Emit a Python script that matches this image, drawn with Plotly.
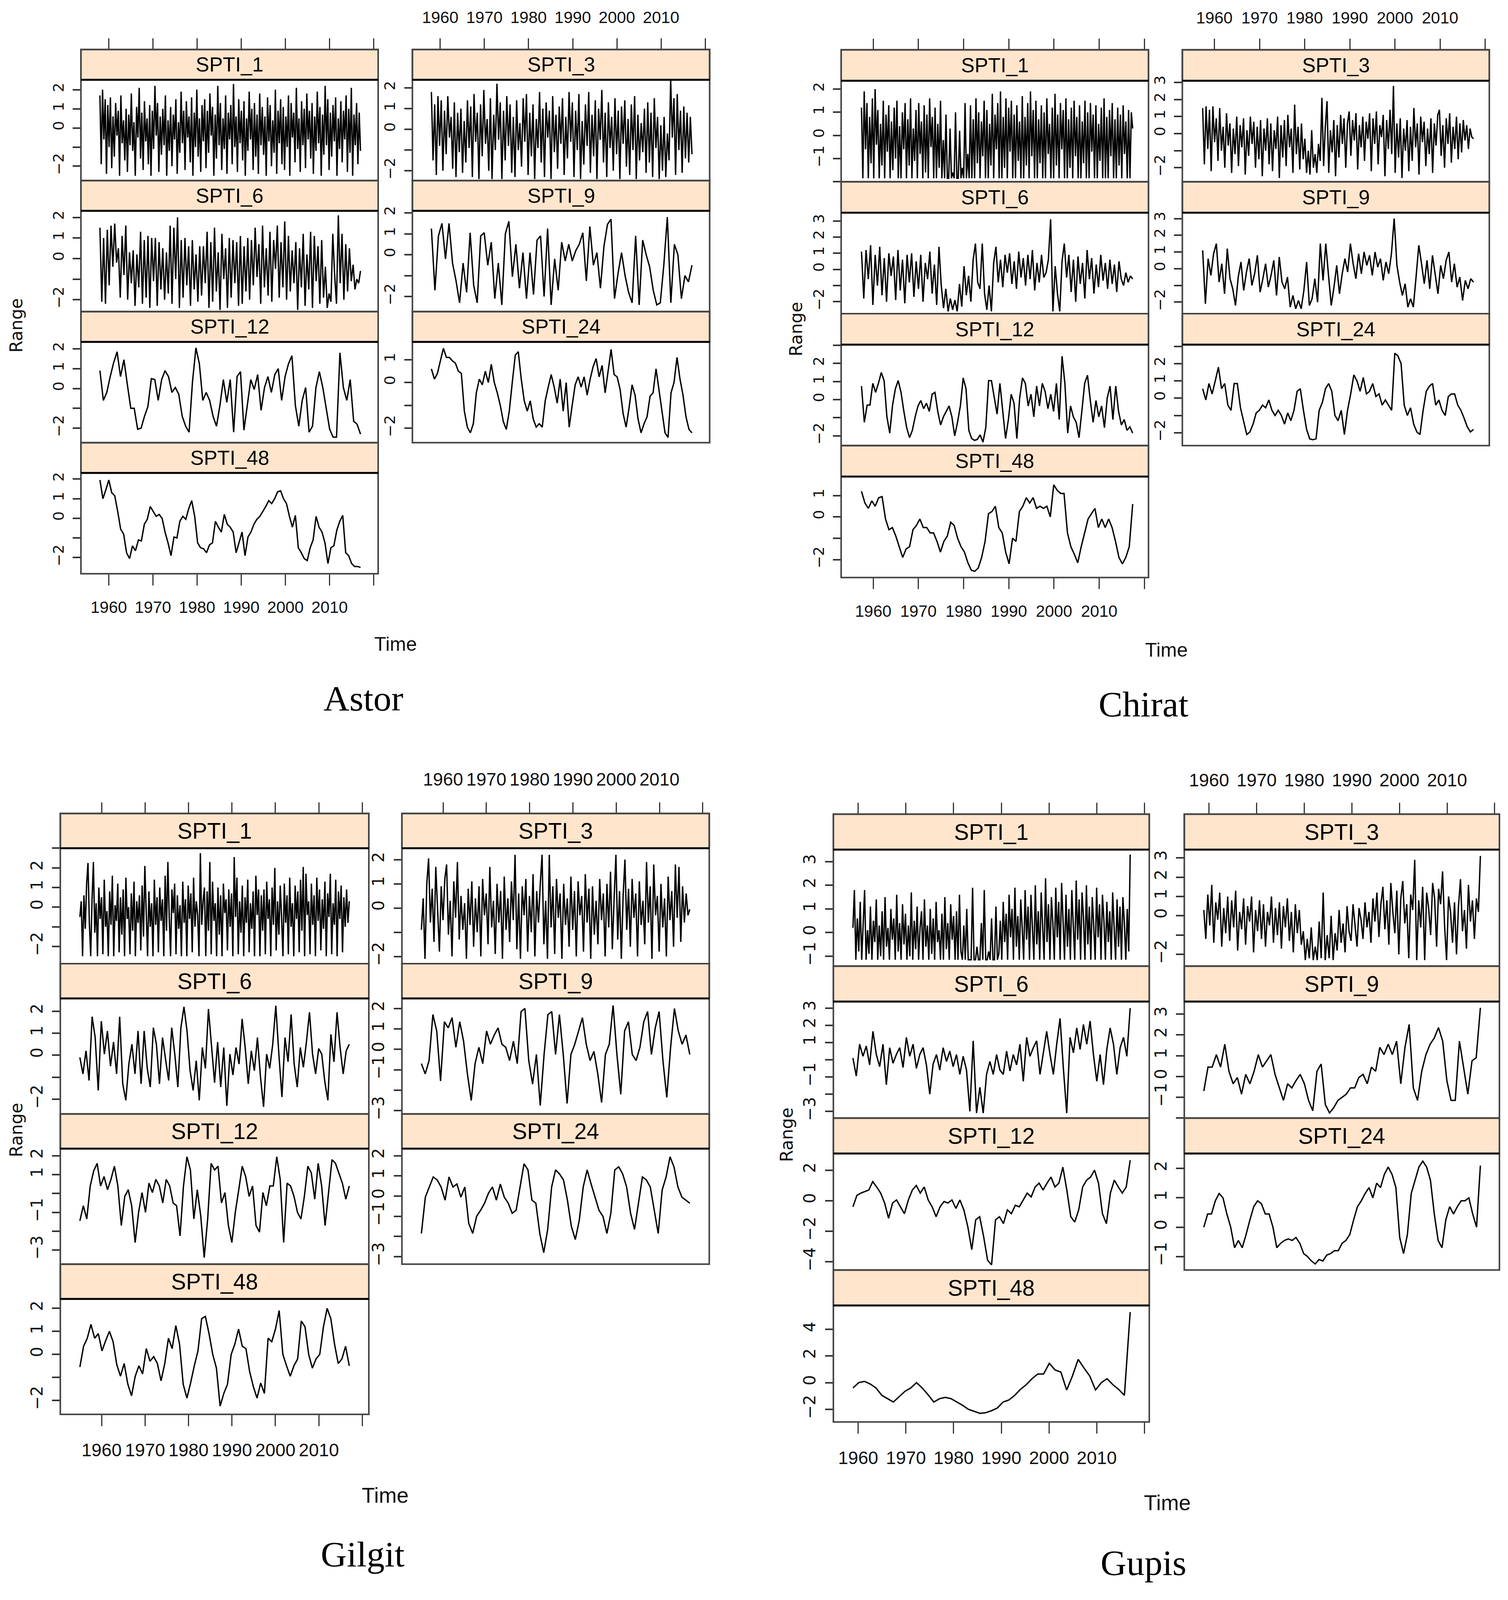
import numpy as np
import plotly.graph_objects as go

# reference page size (all placements below are given in these pixels)
W, H = 3860, 4582
# the photographed viewport is ~3860x4096, so the figure is fitted into it
FIG_W, FIG_H = 3844, 4064

# ---- SPTI series (coarse re-sampling of the monthly values)
astor_spti_1 = [
    1.7, -1.9, 2.0, -0.6, 1.5, -2.4, 1.2, -1.0, 1.6, -2.1, 0.6, -1.5, 1.3, -0.4, 0.9, -2.5, 1.7, -0.8, 0.4, -1.7,
    1.0, -2.3, 0.7, -0.9, 1.8, -1.2, 0.3, -2.5, 1.1, -0.5, 2.1, -1.6, 0.8, -2.2, 1.4, -0.7, 0.5, -1.9, 1.2, -2.5,
    0.9, -1.1, 2.2, -0.4, 1.3, -2.3, 0.6, -1.4, 1.0, -0.9, 1.7, -2.5, 0.4, -1.2, 1.1, -2.0, 0.7, -0.6, 1.5, -2.4,
    0.3, -1.3, 1.9, -0.8, 0.9, -2.2, 1.4, -0.5, 0.6, -1.8, 1.6, -2.5, 0.8, -1.0, 2.0, -1.5, 0.5, -2.3, 1.2, -0.7,
    1.5, -2.1, 0.9, -1.3, 1.8, -0.4, 1.1, -2.5, 0.7, -1.6, 2.2, -0.9, 1.3, -2.2, 0.5, -1.1, 1.7, -2.4, 0.8, -0.6,
    1.2, -1.9, 2.3, -1.0, 0.6, -2.3, 1.5, -0.8, 0.9, -1.7, 1.4, -2.5, 0.5, -1.2, 1.9, -0.6, 1.0, -2.2, 1.3, -1.5,
    0.7, -2.4, 1.8, -0.9, 1.1, -1.4, 0.6, -2.5, 1.6, -0.7, 1.2, -2.0, 0.4, -1.3, 2.0, -2.4, 0.9, -0.8, 1.5, -1.9,
    1.1, -2.2, 0.6, -1.0, 1.7, -2.5, 1.3, -0.5, 0.8, -1.8, 2.1, -1.1, 0.5, -2.3, 1.4, -0.9, 1.0, -2.1, 1.8, -0.6,
    0.9, -1.6, 1.3, -2.4, 0.6, -1.2, 1.9, -0.8, 1.1, -2.5, 0.7, -1.4, 2.2, -0.9, 1.5, -2.2, 0.8, -1.5, 1.2, -0.7,
    1.6, -2.5, 0.5, -1.1, 1.4, -1.8, 0.9, -0.6, 1.7, -2.3, 1.0, -1.3, 2.1, -2.5, 0.7, -0.9, 1.3, -1.9, 0.8, -1.2,
]
astor_spti_3 = [
    1.8, -1.5, 1.2, -2.2, 1.6, -0.8, 1.4, -2.0, 0.9, -1.2, 1.6, -0.4, 0.6, -1.9, 1.3, -2.3, 0.8, -1.1, 1.0, -2.1,
    0.4, -1.6, 1.4, -0.9, 1.1, -2.3, 1.7, -0.6, 0.8, -2.4, 1.2, -1.3, 1.9, -0.7, 0.5, -2.0, 1.5, -2.4, 0.7, -1.0,
    2.2, -0.5, 1.3, -2.4, 0.9, -1.5, 1.6, -0.8, 1.2, -2.1, 0.6, -2.3, 1.4, -1.0, 0.3, -1.8, 1.5, -0.6, 1.7, -2.2,
    0.8, -1.3, 1.2, -2.4, 0.5, -0.9, 1.8, -1.6, 1.0, -2.3, 1.3, -0.4, 0.9, -2.4, 1.6, -1.1, 0.7, -1.9, 1.1, -0.7,
    1.5, -2.2, 0.6, -1.4, 1.8, -0.6, 1.3, -2.3, 0.9, -1.0, 1.7, -2.4, 0.4, -1.7, 1.2, -0.8, 1.8, -2.1, 0.7, -1.3,
    1.4, -2.4, 1.0, -0.5, 1.9, -1.6, 0.8, -2.3, 1.3, -0.9, 0.6, -2.0, 1.5, -1.2, 0.9, -2.4, 1.1, -0.7, 1.4, -1.8,
    0.5, -2.2, 1.2, -1.0, 1.6, -2.4, 0.7, -1.5, 0.3, -1.1, 1.0, -2.1, 1.3, -1.6, 0.8, -2.3, 1.5, -0.9, 0.6, -2.4,
    0.2, -2.0, 0.6, -2.3, -0.2, -1.5, 2.4, -0.4, 1.5, -2.2, 1.7, -1.0, 0.9, -2.1, 1.1, -1.4, 0.8, -1.6, 0.6, -1.2,
]
astor_spti_6 = [
    1.5, -2.1, 1.0, -2.2, 1.4, -1.3, 1.6, -0.4, 1.7, -0.2, 0.5, -1.9, 1.1, -0.8, 1.6, -2.0, 0.3,
    -1.2, 0.4, -2.3, 0.2, -1.4, 1.3, -2.2, 0.9, -1.9, 1.1, -2.4, 1.0, -1.1, 1.0, -2.3, 0.8, -1.5,
    0.5, -2.0, 0.3, -1.7, 1.6, -2.2, 1.5, -1.0, 2.0, -2.4, 0.9, -1.9, 1.0, -1.3, 0.6, -2.3, 0.9,
    -1.5, 0.2, -2.1, 0.6, -1.8, 0.6, -1.2, 1.3, -2.4, 0.8, -2.1, 1.5, -1.6, 0.3, -2.5, 1.2, -1.0,
    0.5, -2.4, 1.0, -1.9, 0.9, -1.2, 0.8, -2.3, 1.1, -2.2, 0.6, -1.6, 1.0, -2.0, 0.9, -1.3, 1.5,
    -0.9, 0.7, -2.2, 1.6, -1.4, 0.5, -1.8, 1.3, -2.1, 0.9, -0.5, 1.6, -1.9, 0.8, -1.4, 1.8, -2.0,
    1.1, -1.6, 0.4, -1.2, 0.8, -2.5, 0.5, -1.4, 1.2, -2.3, 0.2, -1.5, 1.3, -2.4, 1.1, -1.1, 0.6,
    -2.2, 0.9, -1.9, -0.4, -2.4, -1.7, -2.1, 1.2, -0.8, -2.2, 2.1, -1.2, 1.2, -2.0,
    0.7, -1.6, 0.5, -1.1, -0.3, -1.5, -1.0, -1.2, -0.6,
]
astor_spti_9 = [
    1.25, -1.7, 0.9, 1.5, -0.2, 1.5, -0.4, -1.25, -2.3, -0.4, -1.8, 1.05, -1.45, -2.3, 0.9, 1.05, -0.5, 0.6,
    -2.1, -0.4, -2.4, 1.0, 1.6, -1.05, 0.5, -1.6, 0.1, -2.1, 0.1, -1.9, 0.7, 0.9, -2.0, 1.25, -2.4, -0.2,
    -1.7, 0.6, -0.3, 0.5, -0.3, 0.2, 0.5, 1.05, -1.25, 1.35, -0.5, 0.1, -1.6, 0.4, 1.45, 1.7, -2.1, -0.9,
    0.1, -1.0, -1.8, -2.3, 0.9, -2.4, 0.7, 0.0, -0.6, -1.7, -2.4, -2.3, -0.5, 1.8, -2.3, 0.5, 0.0, -2.1,
    -1.0, -1.3, -0.5,
]
astor_spti_12 = [
    0.9, -0.6, -0.2, 0.6, 1.3, 1.85, 0.6, 1.45, 0.2, -1.0, -1.0, -2.05, -2.0, -1.4, -0.9, 0.5, 0.45, -0.6,
    0.45, 0.9, 0.6, -0.2, 0.05, -0.3, -1.4, -1.9, -2.2, 0.35, 2.05, 1.25, -0.6, -0.2, -0.6, -1.4, -1.9,
    -0.85, 0.45, -0.7, 0.45, -2.2, 0.6, 0.85, -2.1, -0.85, 0.45, -0.05, 0.7, -1.1, 0.05, 0.6, -0.2, 0.7,
    1.0, -0.6, 0.6, 1.25, 1.65, -0.85, -1.9, -0.6, 0.05, -2.2, -1.9, 0.05, 0.85, 0.05, -1.0, -2.05, -2.45,
    -2.45, 1.8, 0.05, -0.6, 0.45, -1.65, -1.8, -2.3,
]
astor_spti_24 = [
    0.6, 0.15, 0.4, 0.95, 1.5, 1.1, 1.1, 0.95, 0.85, 0.5, 0.4, -1.25, -1.95, -2.2, -1.8, -0.45, 0.15, -0.1,
    0.5, 0.0, 0.8, 0.0, -0.45, -1.0, -1.7, -2.05, -1.25, 0.0, 1.2, 1.35, 0.15, -0.8, -1.25, -0.8, -1.6,
    -1.95, -1.8, -1.95, -0.8, -0.2, 0.35, -0.2, -0.9, 0.15, -1.25, 0.0, -1.95, -1.0, -0.1, 0.25, -0.2,
    0.25, -0.55, 0.15, 0.7, 1.05, 0.25, 0.75, -0.45, 0.5, 1.45, 0.35, 0.25, -0.3, -1.35, -1.95, -1.1,
    -0.1, -0.55, -1.6, -2.2, -1.8, -1.5, -0.6, -0.45, 0.6, -0.3, -1.25, -2.2, -2.4, -0.45, 0.0, 1.1,
    0.15, -0.55, -1.5, -2.05, -2.2,
]
astor_spti_48 = [
    1.95, 1.0, 1.45, 1.95, 1.3, 1.15, 0.35, -0.55, -0.8, -1.75, -2.05, -1.4, -1.65, -1.1, -1.15, -0.3,
    -0.05, 0.6, 0.35, 0.1, 0.2, 0.0, -0.7, -1.25, -1.9, -0.95, -1.0, -0.15, 0.1, -0.05, 0.5, 0.9, 0.1,
    -1.25, -1.5, -1.55, -1.75, -1.35, -1.25, -0.15, -0.45, -0.7, 0.2, -0.3, -0.45, -0.7, -1.75, -1.25,
    -0.7, -1.9, -0.95, -0.7, -0.3, -0.05, 0.1, 0.35, 0.6, 0.9, 0.75, 1.0, 1.35, 1.4, 1.0, 0.75, 0.1,
    -0.45, 0.15, -1.5, -1.75, -2.05, -2.15, -1.5, -1.1, 0.1, -0.45, -0.7, -1.25, -2.3, -1.5, -1.4, -0.6,
    -0.15, 0.15, -1.75, -1.9, -2.3, -2.45, -2.45, -2.5,
]

chirat_spti_1 = [
    1.2, -1.85, 1.9, -0.6, 1.4, -1.85, 0.8, -1.2, 1.6, -1.85, 2.0, -0.4, 1.1, -1.85, 0.5, -1.3, 1.5, -1.85, 0.9, -0.7,
    1.3, -1.85, 0.6, -1.5, 1.2, -1.0, 1.5, -1.85, 0.4, -1.85, 1.0, -0.6, 1.4, -1.85, 0.7, -1.3, 1.6, -1.85, 0.3, -1.1,
    1.1, -1.85, 1.4, -0.8, 0.6, -1.85, 1.3, -1.6, 0.9, -1.85, 1.6, -0.5, 0.8, -1.85, 1.2, -1.85, 0.5, -1.4, 1.5, -1.85,
    -0.2, -1.85, 0.9, -1.85, -1.85, 0.3, -1.85, -1.6, -1.85, 1.0, -1.85, -1.85, 0.2, -1.85, -1.4, -1.85, 1.4, -1.85, -0.8, -1.85,
    1.3, -1.85, 0.7, -1.85, 1.6, -1.2, 1.0, -1.85, 0.6, -0.9, 1.5, -1.85, 1.1, -1.85, 0.5, -1.3, 1.8, -1.85, 0.9, -0.6,
    1.4, -1.85, 1.9, -1.85, 0.8, -1.4, 1.6, -1.85, 1.2, -0.7, 1.5, -1.85, 0.9, -1.85, 1.3, -1.1, 0.6, -1.85, 1.7, -1.85,
    0.8, -1.3, 1.4, -1.85, 1.9, -0.9, 1.1, -1.85, 1.5, -1.85, 0.7, -1.2, 1.3, -1.85, 1.0, -1.85, 1.6, -0.8, 0.5, -1.85,
    1.2, -1.85, 1.8, -1.3, 0.9, -1.85, 1.4, -0.6, 1.1, -1.85, 1.6, -1.85, 0.7, -1.4, 1.2, -1.85, 1.5, -0.9, 0.8, -1.85,
    1.3, -1.85, 0.6, -1.2, 1.5, -1.85, 1.0, -1.85, 1.4, -0.7, 0.9, -1.85, 1.3, -1.85, 0.5, -1.1, 1.2, -1.85, 1.6, -1.85,
    0.8, -1.85, 1.1, -0.9, 1.4, -1.85, 0.7, -1.85, 1.2, -1.3, 0.9, -1.85, 1.3, -0.8, 0.6, -1.85, 1.1, -1.85, 1.0, 0.3,
]
chirat_spti_3 = [
    1.5, -1.8, 1.6, -0.9, 1.4, -2.2, 1.6, -0.5, 0.9, -1.6, 1.5, -1.0, 0.4, -2.0, 1.2, -0.7, 0.6, -2.3, 0.3, -1.2,
    1.0, -1.9, 0.5, -0.8, 0.9, -2.4, 0.2, -1.3, 1.0, -0.6, 0.7, -2.0, 0.4, -1.5, 0.8, -2.5, 0.3, -1.0, 0.9, -1.8,
    0.6, -2.2, 0.2, -0.9, 1.0, -2.6, 0.5, -1.4, 0.8, -1.9, 1.1, -0.8, 0.3, -2.3, 1.7, -1.2, 0.4, -2.1, 0.6, -1.5,
    -0.3, -2.3, -1.0, -2.4, 0.2, -2.0, -1.2, -2.3, -0.6, -1.6, 2.1, -1.9, 0.4, 1.9, -2.3, 0.2, -1.1, 0.8, -2.5, 0.5,
    -1.4, 1.1, -0.6, 0.9, -2.0, 0.6, 1.3, -1.3, 0.8, -0.4, 1.2, -2.1, 0.5, -0.8, 1.0, -1.6, 0.7, -0.3, 1.2, -2.2,
    0.9, -0.6, 1.3, -1.8, 0.5, -0.2, 1.1, -2.5, 0.8, -0.9, 1.4, -1.2, 2.8, -2.3, 0.6, -1.4, 0.9, -2.6, 0.3, -1.0,
    0.8, -2.2, 0.4, -1.6, 1.5, -0.8, 0.6, -2.4, 1.0, -0.5, 0.7, -1.9, 0.3, -1.2, 0.9, -2.3, 0.6, -0.7, 1.1, 1.4,
    -1.3, 0.5, -2.0, 0.9, -0.6, 1.2, -1.7, 0.4, -0.9, 1.0, -1.5, 0.6, -1.1, 0.8, -0.4, 0.5, -0.9, 0.3, -0.2, -0.3,
]
chirat_spti_6 = [
    1.1, -1.8, 1.2, -0.6, 1.5, -2.2, 0.9, -1.0, 1.4, -1.6, 0.7, -2.0, 1.0, -0.4, 0.8, -1.9, 1.2, -1.3,
    0.6, -2.1, 0.9, -0.8, 1.0, -1.7, 0.5, -1.2, 0.9, -2.0, 0.4, -0.6, 1.1, -1.5, 0.3, -2.2, 1.4, -1.0,
    -2.4, -1.2, -2.6, -1.8, -2.5, -1.9, -2.6, -0.9, -2.3, 0.2, -1.6, -0.4, -2.0, 0.6, 1.6, -0.8, -1.2, 1.6,
    -1.5, -2.5, -1.0, -2.6, 0.4, 1.4, -0.8, 0.6, -1.1, 0.9, -0.2, 1.0, -0.9, 0.5, -1.2, 1.1, -0.5, 0.7,
    -1.0, 0.9, -0.6, 1.2, -1.3, 0.4, -0.8, 0.9, -0.5, -0.2, 0.6, 3.1, -2.6, 0.2, -1.5, -2.6, 0.5, 1.6,
    -0.5, 0.9, -1.4, 0.6, -2.0, 0.8, -0.9, 0.4, -1.8, 1.2, -0.6, 0.7, -1.5, 0.3, -1.1, 0.9, -0.7, 0.4,
    -1.2, 0.6, -0.9, 0.3, -1.4, 0.5, -0.6, -1.0, -0.2, -0.8, -0.4, -0.6,
]
chirat_spti_9 = [
    1.1, -2.1, 0.6, -0.4, 0.9, 1.5, -0.8, 0.3, -1.5, 1.2, -0.6, -1.2, -2.2, -0.5, 0.4, -1.3, -0.2, 0.6, -1.0, -0.3,
    0.8, -1.4, -0.6, 0.3, -1.1, -0.4, 0.5, -1.6, 0.7, -0.8, -1.2, -0.5, -2.3, -1.6, -2.4, -1.9, -2.4, -1.3, 0.4, -2.2,
    -1.8, -0.6, -2.0, 1.5, -0.7, 1.5, -0.4, -2.2, -1.1, 0.2, -1.5, -0.3, 0.6, -0.2, 1.5, 0.3, -0.6, 0.9, -0.3, 1.0,
    0.2, 0.8, -0.4, 1.0, 0.1, 0.6, -0.7, 0.4, -0.3, 0.9, 3.0, 0.2, -0.8, -1.6, -0.9, -2.3, -1.8, -2.3, -0.5, 1.4,
    0.3, -0.9, 0.5, -1.2, 0.8, -0.4, -1.5, 0.2, -0.6, 0.5, 1.0, -0.8, 0.3, -1.1, -0.5, -1.9, -0.7, -1.2, -0.6, -0.8,
]
chirat_spti_12 = [
    0.75, -1.25, -0.3, -0.3, 0.9, 0.4, 0.9, 1.5, 1.05, -0.95, -1.85, -0.3, 0.6, 1.05, 0.4, -0.65, -1.55,
    -2.1, -1.7, -0.95, -0.35, -0.05, -0.5, -0.2, -0.65, 0.3, 0.4, -0.65, -1.4, -0.95, -0.65, -0.35, -0.95,
    -2.0, -1.25, -0.35, 1.2, 0.6, -1.7, -2.15, -2.25, -2.2, -1.95, -2.35, -1.55, 1.05, 1.05, 0.1, -0.8,
    0.9, -0.65, -2.15, -1.1, 0.3, -0.2, -2.15, 0.1, 1.2, 0.9, -0.35, 0.3, -0.95, 0.75, -0.35, 0.9, 0.45,
    -0.5, 0.3, -0.65, 0.9, -1.1, 2.4, 0.9, -1.85, -0.35, -0.95, -1.25, -2.1, -0.65, 0.9, 1.35, -0.05,
    -1.25, -0.05, -0.95, -0.35, -1.55, 0.1, 0.75, -1.1, 0.75, -0.65, -1.4, -1.1, -1.7, -1.5, -1.85,
]
chirat_spti_24 = [
    0.55, -0.1, 0.85, 0.25, 1.0, 1.8, 0.55, 0.85, -0.4, -0.7, 0.85, 0.85, -0.55, -1.3, -2.1, -1.95, -1.5,
    -0.85, -0.7, -0.4, -0.55, -0.1, -0.7, -1.0, -0.7, -1.0, -1.5, -0.85, -1.3, -0.7, 0.4, 0.55, -0.7, -1.8,
    -2.35, -2.4, -2.35, -0.7, -0.25, 0.55, 0.85, 0.4, -1.0, -1.3, -0.7, -2.1, -0.7, 0.25, 1.35, 1.0, 0.4,
    1.2, 0.25, 0.4, 0.85, 0.1, 0.25, -0.4, -0.1, -0.4, -0.7, 2.6, 2.45, 2.0, -0.4, -1.0, -0.55, -1.5, -1.95,
    -2.1, -0.7, 0.4, 0.7, 0.85, -0.4, -0.1, -0.7, -1.0, 0.1, 0.25, 0.25, -0.4, -0.7, -1.15, -1.65, -1.95, -1.8,
]
chirat_spti_48 = [
    1.2, 0.65, 0.4, 0.75, 0.5, 0.9, 0.95, -0.1, -0.6, -0.5, -0.9, -1.4, -1.9, -1.5, -1.4, -0.6, -0.4, -0.1,
    -0.5, -0.5, -0.75, -0.75, -1.15, -1.65, -1.15, -0.9, -0.25, -0.4, -1.0, -1.4, -1.65, -2.15, -2.5, -2.55,
    -2.4, -1.9, -1.15, 0.15, 0.25, 0.5, -0.5, -0.75, -1.65, -2.2, -1.0, -1.15, 0.25, 0.5, 0.9, 0.65, 0.9,
    0.4, 0.5, 0.4, 0.5, 0.0, 1.5, 1.25, 1.1, 1.1, -0.75, -1.4, -1.75, -2.15, -1.4, -0.75, -0.1, 0.15, 0.4,
    -0.5, -0.1, -0.5, -0.1, -0.5, -1.15, -1.9, -2.2, -1.9, -1.4, 0.6,
]

gilgit_spti_1 = [
    -0.5, 0.3, -2.5, 0.6, -1.1, 1.2, 2.25, -0.8, -2.5, 0.4, 2.3, -1.3, 0.2, -2.5, 1.0, -0.6, 0.5, -2.4, 1.4, -1.0,
    -0.2, -2.5, 0.8, -0.9, 1.6, -2.5, 0.1, -0.7, 1.2, -2.3, 0.5, -1.4, 0.9, -2.5, 1.5, -0.6, 0.0, -2.4, 0.7, -1.2,
    1.3, -2.5, 0.3, -0.8, 0.6, -2.2, 1.1, -1.5, 2.1, -0.4, -2.5, 0.8, -1.0, 0.2, -2.5, 1.4, -0.9, 0.5, -2.3, 1.0,
    -0.7, 0.4, -2.5, 1.6, -1.2, 2.3, -0.5, -2.5, 0.9, -0.3, 1.2, -2.4, 0.6, -1.1, 0.1, -2.5, 1.3, -0.8, 0.4, -2.5,
    1.1, -0.6, 0.7, -2.3, 1.5, -1.0, 0.3, -0.4, -2.5, 2.75, -0.9, 0.3, 1.0, -2.5, 0.8, -1.2, 2.3, -2.4, 1.3, -0.7,
    0.2, -2.5, 1.0, -1.4, 0.6, -2.5, 1.2, -0.3, 0.4, -2.2, 0.9, -1.0, 0.7, -2.5, 2.55, -0.5, 1.5, -2.4, 0.3, -1.3,
    1.1, -2.5, 0.5, -0.8, 1.4, -2.3, 0.2, -1.1, 0.8, -2.5, 1.6, -0.4, 0.9, -2.5, 0.6, -1.2, 0.9, -2.4, 1.3, -0.6,
    0.4, -2.5, 1.0, -0.9, 2.0, -2.2, 0.3, -1.4, 1.1, -0.5, -2.5, 1.2, -0.8, 0.6, -2.4, 1.5, -1.0, 0.2, -2.5, 1.1,
    -0.6, 0.8, -2.3, 1.4, -1.2, 2.05, -2.5, 1.7, -0.4, 0.3, -2.4, 1.2, -0.9, 0.6, -2.5, 1.5, -0.7, 0.9, -2.2, 0.4,
    -1.1, 1.3, -2.5, 0.7, -0.5, 1.7, -2.4, 0.2, -0.9, 1.4, -2.5, 0.8, -0.6, 1.1, -2.3, 0.5, -1.0, 0.9, -0.8, 0.3,
]
gilgit_spti_3 = [
    -0.9, 0.4, -2.1, 1.0, 2.05, -0.6, 0.8, -1.4, 1.7, -0.2, -1.8, 0.9, -0.5, 1.2, 1.8, -1.1, 0.3, -2.0, 1.1, -0.4,
    1.9, -1.3, 0.5, -0.9, 0.2, -2.1, 0.8, -0.7, 1.1, -1.6, 0.4, -1.0, 0.9, -2.0, 1.2, -0.3, 0.6, -1.5, 1.7, -0.8,
    0.3, -1.9, 1.0, -0.6, 0.7, -2.1, 1.3, -0.9, 0.4, -1.4, 1.1, -0.5, 2.2, -1.7, 0.6, -2.1, 0.9, -0.3, 1.2, -1.8,
    0.5, -1.0, 1.4, -2.0, 0.7, -0.6, 1.0, 2.2, -1.5, 0.3, -2.1, 2.2, -0.8, 0.9, -1.9, 1.2, -0.4, 0.6, -2.1, 1.0,
    -0.7, 0.4, -1.6, 1.3, -0.9, 0.7, -2.0, 1.1, -0.3, 0.5, -1.8, 1.4, -0.6, 0.8, -2.1, 0.9, -1.1, 0.3, -1.5, 1.2,
    -0.5, 0.6, -2.0, 1.0, -0.8, 1.5, -1.7, 0.4, 2.2, -1.3, 0.7, -2.1, 0.5, 2.0, -0.9, 0.8, -1.6, 1.2, -0.4, 0.6,
    -2.0, 1.1, -0.7, 0.3, -1.5, 1.9, -0.6, 0.9, -2.1, 1.8, -0.3, 0.5, -1.8, 1.0, -0.8, 0.4, -2.0, 1.3, -0.5, 0.7,
    -1.6, 1.8, -0.4, 1.7, -1.4, 0.9, -0.6, 0.6, -0.3, -0.05,
]
gilgit_spti_6 = [
    -0.1, -0.85, 0.2, -1.15, 1.75, 0.8, -1.6, 1.55, 0.05, 1.1, -0.5, 0.6, -0.85, 1.75, -1.3, -2.05, -0.4,
    0.5, -0.85, 1.1, -1.3, 1.1, -0.6, -1.45, 1.25, 0.5, -1.3, 0.8, -0.2, -1.15, 1.25, 0.05, -1.45, 1.25,
    2.2, 1.1, -0.7, -1.6, -0.25, -2.05, 0.35, -0.6, 2.1, 0.35, -1.25, 0.6, -1.45, 0.35, -2.3, 0.05, -0.9,
    0.35, -0.4, 1.65, 0.35, -1.3, 0.2, -0.7, 0.8, -1.0, -2.35, 0.05, -0.6, 0.5, 2.25, 0.05, -1.9, 0.8,
    -0.3, 1.85, -0.4, -1.45, 0.35, -0.55, 0.6, 1.95, 0.05, -0.85, 0.3, 0.05, -1.2, -2.05, 0.95, -0.3,
    1.95, 0.35, -0.85, 0.2, 0.5,
]
gilgit_spti_9 = [
    -0.7, -1.2, -0.55, 1.7, 0.9, -1.55, 1.35, 1.05, 1.55, 0.1, 1.35, 0.4, -1.2, -2.5, -0.7, 0.1, -0.7, 0.9,
    0.25, 0.7, 1.05, 0.25, 0.1, -0.55, 0.4, -0.7, 1.85, 2.0, -0.55, -1.7, -0.25, -2.75, -0.25, 1.7, 1.85,
    -0.25, 1.7, -0.25, -2.65, -0.25, 0.25, 0.9, 1.55, 0.25, -0.55, -0.1, -1.2, -2.6, -0.25, 0.25, 2.15,
    -0.25, -2.2, 0.9, 1.35, -0.25, -0.55, 0.1, 1.35, 1.85, -0.25, 1.05, 1.85, -0.55, -2.35, 0.1, 2.0, 0.9,
    0.25, 0.7, -0.25,
]
gilgit_spti_12 = [
    -1.45, -0.65, -1.35, 0.4, 1.2, 1.6, 0.4, 0.9, 0.2, 0.75, 1.45, 0.4, -1.7, -0.15, 0.2, -0.65, -2.6, -1.0,
    0.05, -1.0, 0.55, 0.05, 0.75, 0.4, -0.5, 0.75, 0.4, -0.5, -0.65, -2.25, 0.4, 1.95, 1.25, -1.35, 0.2,
    -1.2, -3.4, -1.35, 1.6, 1.25, 1.45, -0.5, 0.05, -1.7, -2.6, -1.0, 0.2, 1.45, 0.9, -0.15, 0.4, -1.7,
    -2.05, 0.05, -0.65, 0.4, 0.4, 1.95, 0.75, -2.6, 0.55, 0.4, -0.15, -1.0, -1.35, -0.15, 1.45, 1.1, -0.3,
    1.6, 0.4, -1.7, 0.05, 1.8, 1.6, 1.1, 0.55, -0.3, 0.4,
]
gilgit_spti_24 = [
    -1.85, -0.05, 0.45, 0.95, 0.8, 0.45, -0.2, 0.95, 0.45, 0.6, -0.05, 0.45, -1.35, -1.85, -1.0, -0.7,
    -0.35, 0.15, 0.45, -0.2, 0.6, -0.05, -0.35, -0.85, -0.7, 0.45, 1.6, 1.3, -0.2, -0.35, -1.85, -2.8,
    -1.65, 0.45, 1.3, 1.1, 0.8, -0.2, -1.5, -2.15, -1.2, 0.45, 1.3, 0.6, -0.05, -0.7, -1.0, -1.85, -0.85,
    1.3, 1.45, 1.1, 0.45, -0.85, -1.65, -0.35, 0.95, 0.8, 0.45, -0.7, -1.85, 0.3, 0.95, 1.95, 1.45, 0.45,
    -0.05, -0.2, -0.35,
]
gilgit_spti_48 = [
    -0.55, 0.35, 0.7, 1.3, 0.7, 0.9, 0.15, 0.6, 1.0, 0.55, -0.45, -0.95, -0.4, -1.3, -1.8, -0.95, -0.5,
    -0.85, 0.25, -0.3, -0.1, -0.4, -1.15, -0.4, 0.7, 0.25, 1.25, 0.45, -1.3, -1.9, -1.25, -0.5, 0.15, 1.55,
    1.65, 0.9, 0.0, -0.6, -2.25, -1.7, -1.3, 0.0, 0.45, 1.1, 0.35, 0.25, -0.75, -1.4, -1.9, -1.25, -1.7,
    0.7, 0.55, 1.1, 1.9, 0.0, -0.5, -0.95, -0.5, -0.2, 1.45, 1.2, 0.0, -0.6, -0.2, 0.0, 1.2, 2.0, 1.55,
    0.45, -0.4, -0.2, 0.35, -0.5,
]

gupis_spti_1 = [
    0.2, 1.8, -1.15, 0.6, -0.8, 1.3, -1.15, 0.4, 1.8, -1.15, 0.1, -0.9, 1.1, -1.15, 0.5, -0.4, 1.4, -1.15, 0.3, -1.0,
    0.9, -1.15, 1.5, -0.6, 0.2, -1.15, 1.0, -0.3, 0.6, -1.15, 1.6, -0.8, 0.4, -1.15, 1.2, -0.5, 0.8, -1.15, 0.3, -1.0,
    1.7, -1.15, 0.5, -0.7, 1.1, -1.15, 0.2, 0.9, -1.15, 1.4, -0.6, 0.3, -1.15, 1.0, -0.9, 0.6, -1.15, 1.3, -0.4, 0.1,
    -1.15, 0.8, -1.15, 1.5, -0.7, 0.4, -1.15, 1.2, -0.3, 0.7, -1.15, 0.9, -1.15, 1.6, -0.8, -1.15, 0.3, -1.15, 1.0, -1.15,
    -1.15, -1.15, 1.9, -1.15, -1.15, -0.6, -1.15, -1.15, 0.4, -1.15, 1.8, -1.15, -1.15, -0.8, -1.15, 0.6, -1.15, -1.15, 1.1, -1.15,
    -0.9, 0.5, -1.15, 1.3, -0.4, 0.8, -1.15, 1.6, -0.2, 1.0, -1.15, 1.9, -0.6, 0.7, -1.15, 1.4, 0.2, -1.15, 1.8, -0.3,
    1.1, -1.15, 1.6, 0.3, -1.15, 2.0, -0.5, 0.9, -1.15, 1.7, 0.1, -1.15, 2.3, -0.4, 1.2, -1.15, 1.5, 0.4, -1.15, 1.9,
    -0.2, 1.3, -1.15, 2.1, 0.5, -1.15, 1.6, -0.6, 1.0, -1.15, 1.8, 0.2, -1.15, 2.2, -0.3, 1.4, -1.15, 1.7, 0.6, -1.15,
    2.0, -0.5, 1.1, -1.15, 1.5, 0.3, -1.15, 1.9, -0.2, 1.2, -1.15, 1.6, 0.5, -1.15, 1.3, -0.4, 0.9, -1.15, 1.7, 0.2,
    -1.15, 1.4, -0.6, 1.1, -1.15, 1.5, 0.4, -1.15, 1.0, -0.8, 3.3,
]
gupis_spti_3 = [
    0.3, -1.2, 1.1, -0.5, 1.6, -1.4, 0.7, -0.2, 1.2, -1.6, 0.4, -0.9, 1.0, -1.3, 0.8, -0.6, 1.3, -1.8, 0.2, -0.7,
    0.9, -1.5, 0.5, -0.3, 1.0, -1.9, 0.3, -0.8, 0.8, -1.2, 0.6, -1.6, 0.2, -0.5, 1.0, -1.4, 0.4, -1.0, 0.7, -1.7,
    0.5, -0.6, 0.9, -1.3, 0.2, -1.9, 0.6, -0.9, 0.3, -1.5, -0.8, -2.3, -1.2, -2.2, -0.6, -2.3, -1.6, -2.3, -0.3, -2.2,
    1.2, -2.3, -1.0, -2.2, 0.0, -2.3, -0.9, -1.8, 0.3, -1.4, -0.4, -1.9, 0.5, -0.8, -1.3, 0.6, -0.5, -1.6, 0.4, -0.2,
    -1.2, 0.7, -0.6, 0.2, -1.4, 0.9, -0.3, 1.2, -1.1, 0.6, 1.5, -0.7, 0.8, -1.5, 1.7, 0.2, -0.9, 1.3, -2.0, 0.9,
    1.8, -0.4, 0.6, -2.2, 1.1, 0.3, 2.9, -2.3, 0.8, -0.6, 1.5, -2.3, 1.2, 0.4, -1.0, 1.7, 0.9, -1.6, 1.4, 0.6,
    2.3, -0.5, -2.3, 1.0, 0.2, -1.4, 0.7, -2.0, 0.5, 1.9, -0.8, 0.3, -1.7, 1.6, -0.3, 0.8, -1.2, 0.9, 0.2, 3.1,
]
gupis_spti_6 = [
    0.1, -0.95, 0.9, 0.2, 0.8, -0.3, 1.65, 0.3, -0.4, 0.9, -1.45, 0.7, -0.2, 0.3, 0.7, -0.45, 1.3, 0.2, 0.9,
    -0.5, 0.3, 0.7, -0.3, -2.0, -0.25, 0.3, -0.6, 0.7, -0.1, 0.5, -0.4, 0.3, -0.85, 0.2, -0.6, -3.0, 1.1,
    -3.1, -1.6, -3.1, -0.85, -0.1, -0.85, 0.3, -0.6, -0.85, 0.5, -0.65, 0.3, -0.3, 0.9, -1.25, 1.3, 0.2,
    0.7, 1.1, -0.85, 0.4, 1.65, 0.3, -0.85, 0.9, 2.4, -0.5, -3.1, 1.3, 0.4, 1.85, 0.6, 2.05, 0.9, 2.25, 0.3,
    -1.25, 0.3, -1.45, 0.6, 1.85, 0.9, -0.85, 0.7, 1.3, 0.2, 3.0,
]
gupis_spti_9 = [
    -0.7, 0.45, 0.45, 1.05, 0.45, 1.55, 0.25, -0.35, -0.05, -0.85, 0.1, -0.35, 0.25, 1.05, 0.45, 0.75, 1.05,
    0.1, -0.55, -1.15, -0.35, -0.55, -0.2, 0.1, -0.35, -1.15, -1.65, 0.25, 0.6, -1.35, -1.75, -1.5, -1.15,
    -1.0, -0.85, -0.55, -0.55, -0.05, 0.1, -0.35, 0.45, 0.25, 1.4, 1.05, 1.55, 1.05, 1.7, -0.35, 1.4, 2.5,
    -0.55, -1.15, 0.25, 1.05, 1.55, 1.85, 2.35, 1.7, -0.2, -1.15, -1.15, 1.7, 0.45, -0.85, 0.75, 0.9, 3.3,
]
gupis_spti_12 = [
    -0.4, 0.35, 0.5, 0.6, 0.7, 1.25, 0.9, 0.5, -0.15, -1.15, -0.15, 0.05, -0.4, -0.85, 0.05, 0.7, 1.0, 0.5,
    0.9, 0.05, -0.4, -1.05, -0.4, -0.05, -0.15, 0.05, -0.5, 0.05, -0.6, -1.7, -3.2, -1.25, -1.05, -2.35,
    -3.9, -4.2, -1.25, -1.05, -1.5, -0.6, -0.85, -0.3, -0.4, 0.05, 0.5, 0.25, 0.9, 1.15, 0.7, 1.15, 1.55,
    0.9, 1.15, 2.2, 0.7, -1.05, -1.4, -0.6, 0.9, 1.35, 1.55, 2.0, 1.15, -0.85, -1.5, 0.5, 1.35, 0.9, 0.5,
    0.9, 2.65,
]
gupis_spti_24 = [
    0.0, 0.45, 0.45, 0.9, 1.15, 1.0, 0.45, 0.0, -0.7, -0.45, -0.7, -0.25, 0.25, 0.7, 0.9, 0.8, 0.45, 0.45,
    0.0, -0.7, -0.55, -0.45, -0.4, -0.45, -0.35, -0.55, -0.9, -1.0, -1.15, -1.25, -1.1, -1.15, -0.95, -0.9,
    -0.8, -0.8, -0.55, -0.45, -0.25, 0.25, 0.7, 0.9, 1.15, 1.35, 1.0, 1.5, 1.35, 1.8, 2.05, 1.8, 1.35,
    -0.35, -0.9, -0.25, 1.15, 1.6, 2.05, 2.25, 2.05, 1.6, 0.45, -0.45, -0.7, 0.25, 0.7, 0.45, 0.7, 0.9,
    0.9, 1.0, 0.45, 0.0, 2.1,
]
gupis_spti_48 = [
    -0.4, 0.0, 0.1, -0.1, -0.4, -0.95, -1.2, -1.45, -1.05, -0.65, -0.4, 0.0, -0.4, -0.9, -1.45, -1.2, -1.1,
    -1.2, -1.45, -1.7, -2.0, -2.15, -2.3, -2.25, -2.1, -1.9, -1.45, -1.3, -0.95, -0.5, -0.15, 0.3, 0.65,
    0.65, 1.45, 0.95, 0.8, -0.55, 0.5, 1.75, 1.1, 0.5, -0.55, 0.0, 0.3, -0.15, -0.5, -0.95, 5.3,
]

stations = ["Astor", "Chirat", "Gilgit", "Gupis"]
panel_names = ["SPTI_1", "SPTI_3", "SPTI_6", "SPTI_9", "SPTI_12", "SPTI_24", "SPTI_48"]
series = {
    "Astor": [astor_spti_1, astor_spti_3, astor_spti_6, astor_spti_9, astor_spti_12, astor_spti_24, astor_spti_48],
    "Chirat": [chirat_spti_1, chirat_spti_3, chirat_spti_6, chirat_spti_9, chirat_spti_12, chirat_spti_24, chirat_spti_48],
    "Gilgit": [gilgit_spti_1, gilgit_spti_3, gilgit_spti_6, gilgit_spti_9, gilgit_spti_12, gilgit_spti_24, gilgit_spti_48],
    "Gupis": [gupis_spti_1, gupis_spti_3, gupis_spti_6, gupis_spti_9, gupis_spti_12, gupis_spti_24, gupis_spti_48],
}
# first and last month of each record (decimal years)
spans = {"Astor": (1958.0, 2017.0), "Chirat": (1957.4, 2017.4),
         "Gilgit": (1955.0, 2017.0), "Gupis": (1958.9, 2017.0)}

x_tickvals = [1960, 1970, 1980, 1990, 2000, 2010, 2020]
x_ticktext = ["1960", "1970", "1980", "1990", "2000", "2010", ""]

M = "\u2212"
T5 = [2, 1, 0, -1, -2]
L5 = ["2", "1", "0", "", M + "2"]
T6 = [3, 2, 1, 0, -1, -2]
L6 = ["3", "2", "1", "0", "", M + "2"]
# y range and ticks of every panel: (low, high, tick values, tick labels)
y_axes = {
    "Astor": [(-2.75, 2.52, T5, L5), (-2.47, 2.39, T5, L5), (-2.58, 2.32, T5, L5), (-2.72, 2.10, T5, L5),
              (-2.73, 2.35, T5, L5), (-2.63, 1.78, [1, 0, -1, -2], ["1", "0", "", M + "2"]),
              (-2.82, 2.31, T5, L5)],
    "Chirat": [(-2.0, 2.36, T5, ["2", "1", "0", M + "1", ""]), (-2.82, 3.10, T6, L6), (-2.74, 3.51, T6, L6),
               (-2.69, 3.35, T6, L6), (-2.54, 3.04, T6, ["", "2", "1", "0", "", M + "2"]),
               (-2.74, 3.10, T6, ["", "2", "1", "0", "", M + "2"]),
               (-2.84, 1.89, [1, 0, -1, -2], ["1", "0", "", M + "2"])],
    "Gilgit": [(-2.88, 3.0, T6, ["", "2", "1", "0", "", M + "2"]), (-2.30, 2.47, T5, L5), (-2.67, 2.58, T5, L5),
               (-3.16, 2.49, [2, 1, 0, -1, -2, -3], ["2", "1", "0", M + "1", "", M + "3"]),
               (-3.75, 2.38, [2, 1, 0, -1, -2, -3], ["2", "1", "", M + "1", "", M + "3"]),
               (-3.37, 2.35, [2, 1, 0, -1, -2, -3], ["2", "1", "0", M + "1", "", M + "3"]),
               (-2.61, 2.41, T5, L5)],
    "Gupis": [(-1.42, 3.51, [3, 2, 1, 0, -1], ["3", "2", "1", "0", M + "1"]), (-2.61, 3.43, T6, L6),
              (-3.39, 3.38, [3, 2, 1, 0, -1, -2, -3], ["3", "2", "1", "", M + "1", "", M + "3"]),
              (-2.0, 3.60, T6, ["3", "2", "1", "0", M + "1", ""]),
              (-4.54, 3.09, [2, 0, -2, -4], ["2", "0", M + "2", M + "4"]),
              (-1.46, 2.51, [2, 1, 0, -1], ["2", "1", "0", M + "1"]),
              (-2.95, 5.79, [4, 2, 0, -2], ["4", "2", "0", M + "2"])],
}

# lattice placement in reference pixels
geom = {
    "Astor": dict(cols=[(200, 964), (1052, 1816)], top=120, pitch=381, strip=88, xr=[1953.7, 2021.0],
                  rng=(34, 922), time=(1009, 1849), name=(926, 2006), fs=1.0),
    "Chirat": dict(cols=[(2154, 2944), (3031, 3820)], top=121, pitch=383.5, strip=90, xr=[1952.9, 2020.9],
                   rng=(2038, 933), time=(2990, 1866), name=(2931, 2024), fs=1.0),
    "Gilgit": dict(cols=[(147, 940), (1025, 1815)], top=2341, pitch=436.7, strip=101, xr=[1950.5, 2021.5],
                   rng=(34, 3261), time=(982, 4323), name=(924, 4495), fs=1.1),
    "Gupis": dict(cols=[(2134, 2946), (3036, 3846)], top=2343, pitch=441.75, strip=103, xr=[1954.8, 2021.0],
                  rng=(2013, 3275), time=(2992, 4345), name=(2931, 4520), fs=1.1),
}
slots = [(0, 0), (1, 0), (0, 1), (1, 1), (0, 2), (1, 2), (0, 3)]  # (column, row) of each SPTI panel

ARIAL = "Liberation Sans, Arial, sans-serif"
SANS = "DejaVu Sans, Liberation Sans, sans-serif"
SERIF = "Liberation Serif, Times New Roman, serif"
FRAME = "#444444"


def px(x):
    return x / W


def py(y):
    return 1 - y / H


fig = go.Figure()
layout = {}
shapes = []
annotations = []
k = 0
for st in stations:
    g = geom[st]
    t0, t1 = spans[st]
    fs = g["fs"]
    for p, name in enumerate(panel_names):
        k += 1
        col, row = slots[p]
        x0, x1 = g["cols"][col]
        s_top = g["top"] + row * g["pitch"]
        p_top = s_top + g["strip"]
        p_bot = g["top"] + (row + 1) * g["pitch"]
        vals = series[st][p]
        t = np.linspace(t0, t1, len(vals))
        xa, ya = ("x", "y") if k == 1 else (f"x{k}", f"y{k}")
        fig.add_trace(go.Scatter(x=t, y=vals, xaxis=xa, yaxis=ya, mode="lines",
                                 line=dict(color="black", width=3.5), showlegend=False,
                                 hoverinfo="skip"))
        lo, hi, tv, tt = y_axes[st][p]
        xax = dict(domain=[px(x0), px(x1)], range=g["xr"], showgrid=False, zeroline=False,
                   showline=False, tickvals=x_tickvals, ticktext=x_ticktext, tickangle=0,
                   tickfont=dict(family=ARIAL, size=42 * fs, color="#111"),
                   tickcolor="#333", tickwidth=3, ticklen=29)
        if row == 0:
            xax.update(anchor="free", position=py(s_top), side="top", ticks="outside",
                       showticklabels=(col == 1), ticklabelstandoff=int(22 * fs))
        elif col == 0 and row == 3:
            xax.update(anchor=ya, side="bottom", ticks="outside", showticklabels=True,
                       ticklabelstandoff=int(20 * fs))
        else:
            xax.update(anchor=ya, ticks="", showticklabels=False)
        yax = dict(domain=[py(p_bot), py(p_top)], range=[lo, hi], anchor=xa, showgrid=False,
                   zeroline=False, showline=False, tickvals=tv, ticktext=tt, tickangle=-90,
                   ticks="outside", ticklen=20, tickwidth=4, tickcolor="#333",
                   ticklabelstandoff=8,
                   tickfont=dict(family=SANS, size=38 * fs, color="#111"))
        layout["xaxis" if k == 1 else f"xaxis{k}"] = xax
        layout["yaxis" if k == 1 else f"yaxis{k}"] = yax

        # strip with the panel name, then the panel frame
        shapes.append(dict(type="rect", xref="paper", yref="paper", x0=px(x0), x1=px(x1),
                           y0=py(p_top), y1=py(s_top), fillcolor="#FFE5CC",
                           line=dict(color=FRAME, width=4), layer="below"))
        shapes.append(dict(type="rect", xref="paper", yref="paper", x0=px(x0), x1=px(x1),
                           y0=py(p_bot), y1=py(s_top), line=dict(color=FRAME, width=4)))
        shapes.append(dict(type="line", xref="paper", yref="paper", x0=px(x0), x1=px(x1),
                           y0=py(p_top), y1=py(p_top), line=dict(color="black", width=5)))
        annotations.append(dict(text=name, xref="paper", yref="paper", x=px((x0 + x1) / 2),
                                y=py(s_top + g["strip"] * 0.5), showarrow=False,
                                xanchor="center", yanchor="middle",
                                font=dict(family=ARIAL, size=52 * fs, color="black")))

    annotations.append(dict(text="Range", xref="paper", yref="paper", x=px(g["rng"][0]),
                            y=py(g["rng"][1]), textangle=-90, showarrow=False,
                            xanchor="center", yanchor="middle",
                            font=dict(family=SANS, size=44, color="#111")))
    annotations.append(dict(text="Time", xref="paper", yref="paper", x=px(g["time"][0]),
                            y=py(g["time"][1]), showarrow=False, xanchor="center", yanchor="middle",
                            font=dict(family=ARIAL, size=50 * fs, color="#111")))
    annotations.append(dict(text=st, xref="paper", yref="paper", x=px(g["name"][0]),
                            y=py(g["name"][1]), showarrow=False, xanchor="center", yanchor="middle",
                            font=dict(family=SERIF, size=92, color="black")))

fig.update_layout(width=FIG_W, height=FIG_H, margin=dict(l=0, r=0, t=0, b=0),
                  paper_bgcolor="white", plot_bgcolor="white",
                  shapes=shapes, annotations=annotations, **layout)
fig.write_html("out.html")
